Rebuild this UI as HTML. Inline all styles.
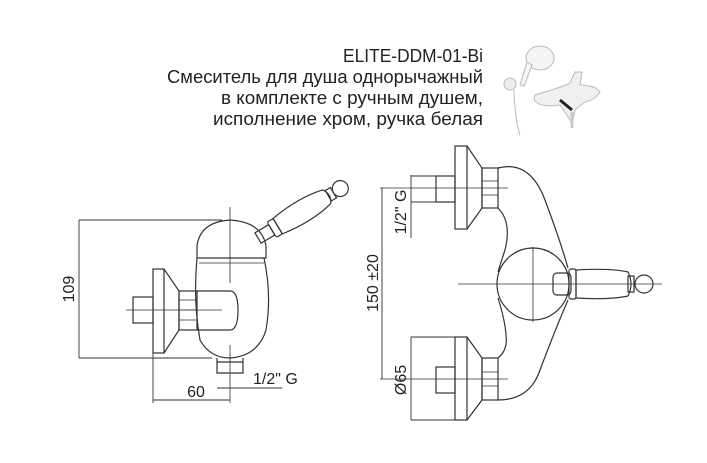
<!DOCTYPE html>
<html><head><meta charset="utf-8"><style>
html,body{margin:0;padding:0;background:#fff;}
svg{display:block;}
text{font-family:"Liberation Sans",sans-serif;fill:#222;}
</style></head><body>
<svg width="707" height="463" viewBox="0 0 707 463" xmlns="http://www.w3.org/2000/svg">
<g font-size="18">
<text x="483" y="62" text-anchor="end" textLength="140" lengthAdjust="spacingAndGlyphs">ELITE-DDM-01-Bi</text>
<text x="483" y="83" text-anchor="end" textLength="316" lengthAdjust="spacingAndGlyphs">Смеситель для душа однорычажный</text>
<text x="483" y="104" text-anchor="end" textLength="262" lengthAdjust="spacingAndGlyphs">в комплекте с ручным душем,</text>
<text x="483" y="125" text-anchor="end" textLength="270" lengthAdjust="spacingAndGlyphs">исполнение хром, ручка белая</text>
</g>
<g stroke="#bbb" fill="#eee" stroke-width="1">
<ellipse cx="540" cy="58" rx="14" ry="12" fill="#f4f4f4"/>
<path d="M527 62 L520 85 L524 86 L532 65 Z" fill="#f6f6f6"/>
<circle cx="510" cy="84" r="6"/>
<path d="M514 90 Q515 120 520 135" fill="none"/>
<path d="M535 95 Q560 88 570 83 L575 72 L582 72 L580 85 Q595 85 600 92 Q595 100 585 102 L575 110 L572 125 L570 120 L560 105 Q540 108 534 100 Z" fill="#f0f0f0"/>
<path d="M560 100 L572 110" stroke="#222" stroke-width="3"/>
<path d="M572 112 L572 128" stroke="#ccc" stroke-width="3"/>
</g>
<g fill="none" stroke="#333" stroke-width="1.2">
<path d="M79 220 V358 M79 220 H222 M79 358 H212" stroke-width="0.9"/>
<rect x="153" y="269" width="11" height="84"/>
<path d="M164 269 L179 291 V330 L164 353"/>
<rect x="133" y="297" width="20" height="26"/>
<rect x="179" y="291" width="18" height="39"/>
<path d="M179 300 H197 M179 310 H197 M179 320 H197" stroke-width="0.8"/>
<path d="M197 258 Q193 300 200 340 Q210 358 230 358 Q258 356 266 330 Q272 295 264 258"/>
<path d="M197 291 H230 Q238 291 238 310 Q238 330 230 330 H197"/>
<path d="M197 258 V246 Q200 222 230 220 Q262 222 266 246 V258 Z"/>
<path d="M199 263 H264" stroke-width="0.8"/>
<path d="M217 358 V373 H243 V358 M217 362 H243" />
<path d="M230 207 V283 M230 345 V403 M126 310 H222" stroke-width="0.8"/>
<path d="M153 353 V403 M153 400 H230 M217 388 H282" stroke-width="0.9"/>
<g transform="translate(258,238) rotate(-31)">
<rect x="0" y="-6" width="16" height="12"/>
<rect x="16" y="-9" width="7" height="18" rx="2"/>
<path d="M23 -9 Q55 -14 80 -8 Q86 0 80 8 Q55 14 23 9 Z"/>
<rect x="82" y="-6" width="6" height="12"/>
<circle cx="96" cy="0" r="8"/>
</g>
<rect x="455" y="146" width="12" height="83"/>
<path d="M467 146 L482 168 V208 L467 229"/>
<rect x="482" y="168" width="16" height="40"/>
<path d="M482 181 H498 M482 195 H498" stroke-width="0.8"/>
<rect x="436" y="176" width="19" height="26"/>
<rect x="455" y="337" width="12" height="83"/>
<path d="M467 337 L482 358 V400 L467 420"/>
<rect x="482" y="358" width="16" height="42"/>
<path d="M482 372 H498 M482 386 H498" stroke-width="0.8"/>
<rect x="436" y="367" width="19" height="26"/>
<path d="M498 168 Q530 160 545 200 Q560 240 568 268 M568 300 Q555 330 540 370 Q530 400 498 400"/>
<path d="M498 208 Q512 222 505 250 Q500 265 498 272 M498 298 Q505 320 506 335 Q508 350 498 358"/>
<circle cx="533" cy="284" r="36"/>
<rect x="553" y="273" width="18" height="22" rx="4"/>
<rect x="569" y="269" width="7" height="30" rx="2"/>
<path d="M576 270 Q610 268 628 272 Q634 284 628 296 Q610 300 576 298 Z"/>
<rect x="628" y="276" width="6" height="16"/>
<circle cx="644" cy="284" r="9"/>
<path d="M458 284 H662 M533 247 V322 M380 188 H508 M380 379 H508" stroke-width="0.8"/>
<path d="M382 188 V379 M411 175 V238 M411 176 H436 M411 202 H436 M411 337 V420 M411 337 H455 M411 420 H455" stroke-width="0.9"/>
</g>
<g font-size="16">
<text x="74" y="289" transform="rotate(-90 74 289)" text-anchor="middle">109</text>
<text x="196" y="397" text-anchor="middle">60</text>
<text x="253" y="384">1/2" G</text>
<text x="378" y="283" transform="rotate(-90 378 283)" text-anchor="middle">150 ±20</text>
<text x="406" y="212" transform="rotate(-90 406 212)" text-anchor="middle">1/2" G</text>
<text x="406" y="380" transform="rotate(-90 406 380)" text-anchor="middle">Ø65</text>
</g>
</svg>
</body></html>
